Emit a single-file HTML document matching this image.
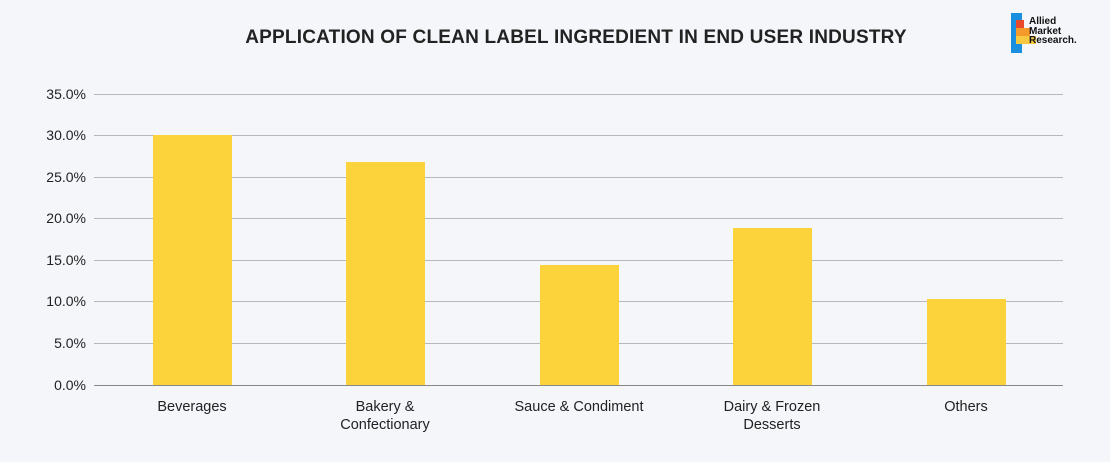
<!DOCTYPE html>
<html><head><style>
body{margin:0;width:1110px;height:462px;background:#f4f6fa;font-family:"Liberation Sans",sans-serif;overflow:hidden;position:relative}
.t{position:absolute;left:0;width:1152px;top:27px;text-align:center;font-size:19px;font-weight:bold;color:#222;letter-spacing:0.2px}
.g{position:absolute;left:94px;width:969px;height:1px;background:#b8b8bc}
.yl{position:absolute;left:20px;width:66px;text-align:right;font-size:14px;color:#222}
.b{position:absolute;width:79px;background:#fdd33c}
.xl{position:absolute;width:160px;text-align:center;font-size:14.5px;color:#222;line-height:18px;top:398px}
</style></head><body>
<div class="t">APPLICATION OF CLEAN LABEL INGREDIENT IN END USER INDUSTRY</div>
<div class="g" style="top:94px"></div><div class="g" style="top:135px"></div><div class="g" style="top:177px"></div><div class="g" style="top:218px"></div><div class="g" style="top:260px"></div><div class="g" style="top:301px"></div><div class="g" style="top:343px"></div><div class="g" style="top:385px;background:#888"></div>
<div class="yl" style="top:86px">35.0%</div><div class="yl" style="top:127px">30.0%</div><div class="yl" style="top:169px">25.0%</div><div class="yl" style="top:210px">20.0%</div><div class="yl" style="top:252px">15.0%</div><div class="yl" style="top:293px">10.0%</div><div class="yl" style="top:335px">5.0%</div><div class="yl" style="top:377px">0.0%</div>
<div class="b" style="left:153px;top:135px;height:250px"></div>
<div class="b" style="left:346px;top:162px;height:223px"></div>
<div class="b" style="left:540px;top:265px;height:120px"></div>
<div class="b" style="left:733px;top:228px;height:157px"></div>
<div class="b" style="left:927px;top:299px;height:86px"></div>
<div class="xl" style="left:112px">Beverages</div>
<div class="xl" style="left:305px">Bakery &amp;<br>Confectionary</div>
<div class="xl" style="left:499px">Sauce &amp; Condiment</div>
<div class="xl" style="left:692px">Dairy &amp; Frozen<br>Desserts</div>
<div class="xl" style="left:886px">Others</div>
<div style="position:absolute;left:1011px;top:13px;width:11px;height:40px;background:#1a8fe0"></div>
<div style="position:absolute;left:1016px;top:20px;width:8px;height:8px;background:#e8482b"></div>
<div style="position:absolute;left:1016px;top:28px;width:14px;height:8px;background:#f39a2b"></div>
<div style="position:absolute;left:1016px;top:36px;width:20px;height:8px;background:#f7c842"></div>
<div style="position:absolute;left:1029px;top:17px;font-size:10px;font-weight:bold;line-height:9.5px;color:#111">Allied<br>Market<br>Research.</div>
</body></html>
